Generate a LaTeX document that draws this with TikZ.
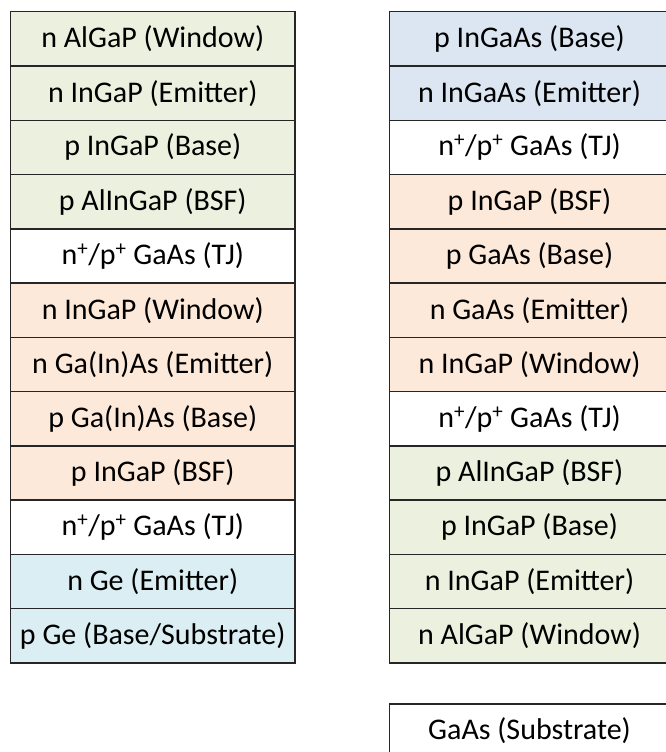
\documentclass[tikz,border=0pt]{standalone}
\usepackage{fontspec}
\setmainfont{Carlito}
\definecolor{lgreen}{HTML}{EBF1DE}
\definecolor{lblue}{HTML}{DCE6F2}
\definecolor{lorange}{HTML}{FDE9D9}
\definecolor{laqua}{HTML}{DAEEF3}
\definecolor{edge}{HTML}{262626}
\begin{document}
\begin{tikzpicture}[x=1pt,y=-1pt,
  layer/.style={draw=edge,line width=1.5pt,minimum height=54.25pt,inner sep=0pt,anchor=north west,
    font=\fontsize{30}{34}\selectfont,text=black},
  lft/.style={layer,minimum width=284.5pt},
  rgt/.style={layer,minimum width=280pt}]
\useasboundingbox (0,0) rectangle (666,752);
\begin{scope}
\clip (0,0) rectangle (666,752);
% left stack
\foreach \i/\c/\t in {0/lgreen/{n AlGaP (Window)},1/lgreen/{n InGaP (Emitter)},2/lgreen/{p InGaP (Base)},3/lgreen/{p AlInGaP (BSF)},4/white/{n\textsuperscript{+}/p\textsuperscript{+} GaAs (TJ)},5/lorange/{n InGaP (Window)},6/lorange/{n Ga(In)As (Emitter)},7/lorange/{p Ga(In)As (Base)},8/lorange/{p InGaP (BSF)},9/white/{n\textsuperscript{+}/p\textsuperscript{+} GaAs (TJ)},10/laqua/{n Ge (Emitter)},11/laqua/{p Ge (Base/Substrate)}}
  \node[lft,fill=\c] (L\i) at (9.75,{11+54.25*\i}) {\t};
% right stack
\foreach \i/\c/\t in {0/lblue/{p InGaAs (Base)},1/lblue/{n InGaAs (Emitter)},2/white/{n\textsuperscript{+}/p\textsuperscript{+} GaAs (TJ)},3/lorange/{p InGaP (BSF)},4/lorange/{p GaAs (Base)},5/lorange/{n GaAs (Emitter)},6/lorange/{n InGaP (Window)},7/white/{n\textsuperscript{+}/p\textsuperscript{+} GaAs (TJ)},8/lgreen/{p AlInGaP (BSF)},9/lgreen/{p InGaP (Base)},10/lgreen/{n InGaP (Emitter)},11/lgreen/{n AlGaP (Window)}}
  \node[rgt,fill=\c] (R\i) at (388.75,{11+54.25*\i}) {\t};
\node[rgt,fill=white] (sub) at (388.75,703) {GaAs (Substrate)};
\end{scope}
\end{tikzpicture}
\end{document}
